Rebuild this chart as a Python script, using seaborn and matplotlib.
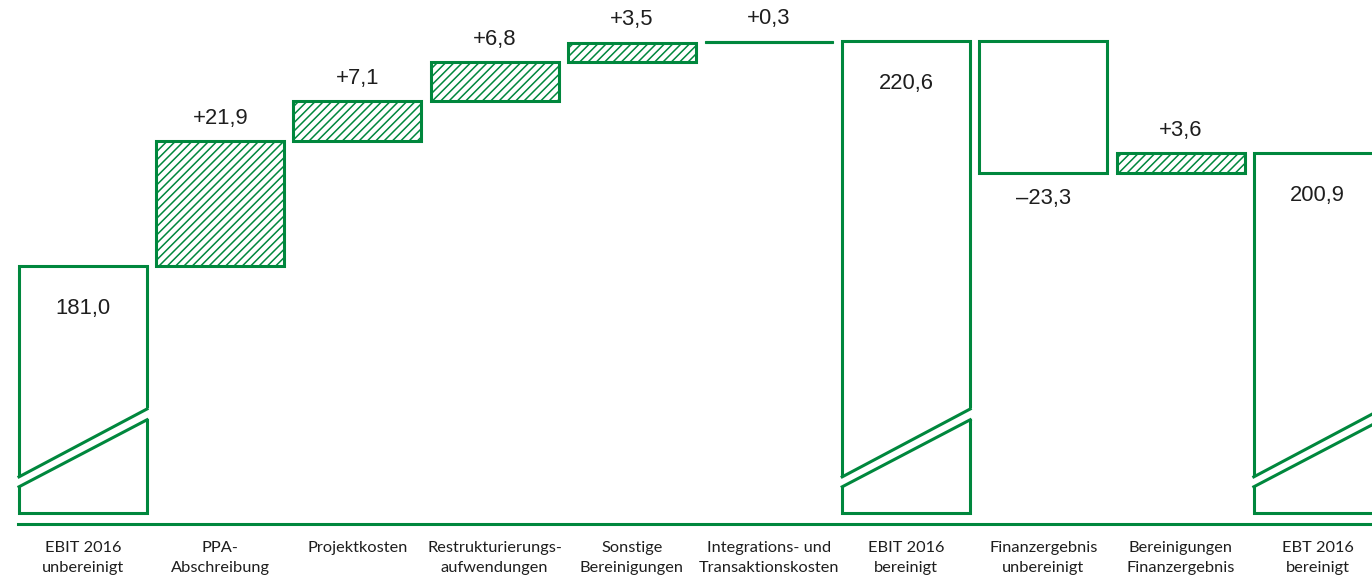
import numpy as np
import pandas as pd
import matplotlib
matplotlib.use("Agg")
import matplotlib.pyplot as plt
from matplotlib.patches import Polygon
import seaborn as sns

# --- data -------------------------------------------------------------
categories = [
    "EBIT 2016\nunbereinigt",
    "PPA-\nAbschreibung",
    "Projektkosten",
    "Restrukturierungs-\naufwendungen",
    "Sonstige\nBereinigungen",
    "Integrations- und\nTransaktionskosten",
    "EBIT 2016\nbereinigt",
    "Finanzergebnis\nunbereinigt",
    "Bereinigungen\nFinanzergebnis",
    "EBT 2016\nbereinigt",
]
values = [181.0, 21.9, 7.1, 6.8, 3.5, 0.3, 220.6, -23.3, 3.6, 200.9]
is_total = [True, False, False, False, False, False, True, False, False, True]

# --- style ------------------------------------------------------------
GREEN = "#00873d"
TEXT = "#1e1e1e"
FLOOR = 137.5          # value where the truncated total bars end
BAR_W = 0.933
LW = 2.2

sns.set_theme(style="white")
plt.rcParams["font.family"] = ["Lato", "DejaVu Sans"]
plt.rcParams["hatch.color"] = GREEN
plt.rcParams["hatch.linewidth"] = 1.1

# --- waterfall geometry ----------------------------------------------
bottoms, tops = [], []
running = 0.0
for v, tot in zip(values, is_total):
    if tot:
        lo, hi = FLOOR, v
        running = v
    else:
        start = running
        running = running + v
        lo, hi = min(start, running), max(start, running)
    bottoms.append(lo)
    tops.append(hi)

df = pd.DataFrame({
    "category": categories,
    "value": values,
    "total": is_total,
    "bottom": bottoms,
    "height": np.array(tops) - np.array(bottoms),
})
df["kind"] = np.where(df["total"], "total",
                      np.where(df["value"] >= 0, "up", "down"))

fig = plt.figure(figsize=(13.72, 5.77), dpi=100)
ax = fig.add_axes([0, 53 / 577, 1, 524 / 577])

styles = {
    "total": dict(hatch=None),
    "up": dict(hatch="////"),
    "down": dict(hatch=None),
}
for kind, kw in styles.items():
    sub = df[df["kind"] == kind]
    sns.barplot(
        data=sub, x="category", y="height", order=categories,
        bottom=sub["bottom"].to_numpy(), width=BAR_W,
        color="white", edgecolor=GREEN, linewidth=LW, saturation=1,
        errorbar=None, ax=ax, zorder=2, **({"hatch": kw["hatch"]} if kw["hatch"] else {}),
    )

# very thin bars are drawn as a simple solid rule
for p in ax.patches:
    if 0 < p.get_height() < 1:
        p.set_hatch(None)
        p.set_facecolor(GREEN)
        p.set_linewidth(0.8)

# axis-break marks on the truncated totals
up_l, up_r = FLOOR + 6.35, FLOOR + 18.3
lo_l, lo_r = FLOOR + 4.6, FLOOR + 16.4
slope = (up_r - up_l) / BAR_W
ext = 0.03
for i, tot in enumerate(is_total):
    if not tot:
        continue
    x0, x1 = i - BAR_W / 2, i + BAR_W / 2
    gap = Polygon(
        [(x0 - ext, lo_l - slope * ext), (x1 + ext, lo_r + slope * ext),
         (x1 + ext, up_r + slope * ext), (x0 - ext, up_l - slope * ext)],
        closed=True, facecolor="white", edgecolor="none", zorder=3,
    )
    ax.add_patch(gap)
    ax.plot([x0, x1], [up_l, up_r], color=GREEN, lw=LW, zorder=4,
            solid_capstyle="projecting")
    ax.plot([x0, x1], [lo_l, lo_r], color=GREEN, lw=LW, zorder=4,
            solid_capstyle="projecting")

# value labels
def fmt(v, total):
    s = f"{abs(v):.1f}".replace(".", ",")
    if total:
        return s
    return ("+" if v >= 0 else "\u2013") + s

for i, row in df.iterrows():
    if row["total"]:
        y = row["value"] - 7.5
    elif row["value"] >= 0:
        y = row["bottom"] + row["height"] + 4.0
    else:
        y = row["bottom"] - 4.4
    ax.text(i, y, fmt(row["value"], row["total"]), ha="center", va="center",
            fontsize=15.8, color=TEXT, family=["Liberation Sans", "DejaVu Sans"],
            zorder=5)

# axes cosmetics
ax.set_xlim(-0.605, 9.395)
ax.set_ylim(135.55, 227.8)
ax.set_xlabel("")
ax.set_ylabel("")
ax.set_yticks([])
for side in ("top", "left", "right"):
    ax.spines[side].set_visible(False)
ax.spines["bottom"].set_color(GREEN)
ax.spines["bottom"].set_linewidth(LW)
ax.spines["bottom"].set_bounds(-0.475, 9.6)
ax.tick_params(axis="x", length=0, pad=12, labelsize=11.8, labelcolor=TEXT)
ax.set_xticks(range(len(categories)))
ax.set_xticklabels(categories, linespacing=1.55)
ax.set_facecolor("white")
fig.patch.set_facecolor("white")

fig.savefig("out.png", dpi=100)
